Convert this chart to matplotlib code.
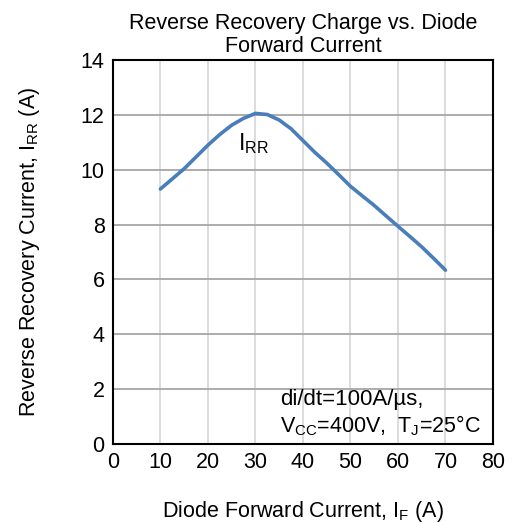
import matplotlib
matplotlib.use("Agg")
import matplotlib.pyplot as plt

plt.rcParams['font.family'] = ['Liberation Sans', 'DejaVu Sans']
plt.rcParams['mathtext.fontset'] = 'custom'
plt.rcParams['mathtext.rm'] = 'Liberation Sans'
plt.rcParams['mathtext.it'] = 'Liberation Sans'
plt.rcParams['mathtext.bf'] = 'Liberation Sans:bold'

# данные
i_f = [10, 12.5, 15, 17.5, 20, 22.5, 25, 27.5, 30, 32.5, 35, 37.5, 40,
       42.5, 45, 47.5, 50, 52.5, 55, 57.5, 60, 62.5, 65, 67.5, 70]
i_rr = [9.3, 9.67, 10.04, 10.47, 10.9, 11.29, 11.63, 11.88, 12.06, 12.02, 11.82, 11.5, 11.07,
        10.64, 10.25, 9.83, 9.4, 9.05, 8.7, 8.32, 7.94, 7.57, 7.19, 6.77, 6.34]
x_ticks = [0, 10, 20, 30, 40, 50, 60, 70, 80]
y_ticks = [0, 2, 4, 6, 8, 10, 12, 14]

fig = plt.figure(figsize=(5.13, 5.24), dpi=100)
ax = fig.add_axes([0.22, 0.153, 0.741, 0.732])

ax.plot(i_f, i_rr, color='#4a7ebb', linewidth=2.6, solid_capstyle='round', solid_joinstyle='round')

ax.set_xlim(0, 80)
ax.set_ylim(0, 14)
ax.set_xticks(x_ticks)
ax.set_yticks(y_ticks)
ax.tick_params(length=0, labelsize=15.5, pad=6)

ax.xaxis.grid(True, color='#d9d9d9', linewidth=1.3)
ax.yaxis.grid(True, color='#a6a6a6', linewidth=1.3)
ax.set_axisbelow(True)
for s in ax.spines.values():
    s.set_linewidth(1.5)
    s.set_color('black')

ax.set_title('Reverse Recovery Charge vs. Diode\nForward Current', fontsize=15.5, pad=6,
             linespacing=1.12)
ax.set_xlabel(r'Diode Forward Current, I$_\mathrm{F}$ (A)', fontsize=15.5)
ax.xaxis.set_label_coords(0.5, -0.177)
ax.xaxis.label.set_va('center')
ax.set_ylabel(r'Reverse Recovery Current, I$_\mathrm{RR}$ (A)', fontsize=15.5)
ax.yaxis.set_label_coords(-0.218, 0.5)
ax.yaxis.label.set_va('center')

ax.text(26.3, 10.73, r'I$_\mathrm{RR}$', fontsize=16.5, va='baseline')
ax.text(35.2, 1.42, 'di/dt=100A/µs,', fontsize=16, va='baseline')
ax.text(35.2, 0.4, r'V$_\mathrm{CC}$=400V,  T$_\mathrm{J}$=25°C', fontsize=15.5, va='baseline')

plt.savefig('out.png', dpi=100)
